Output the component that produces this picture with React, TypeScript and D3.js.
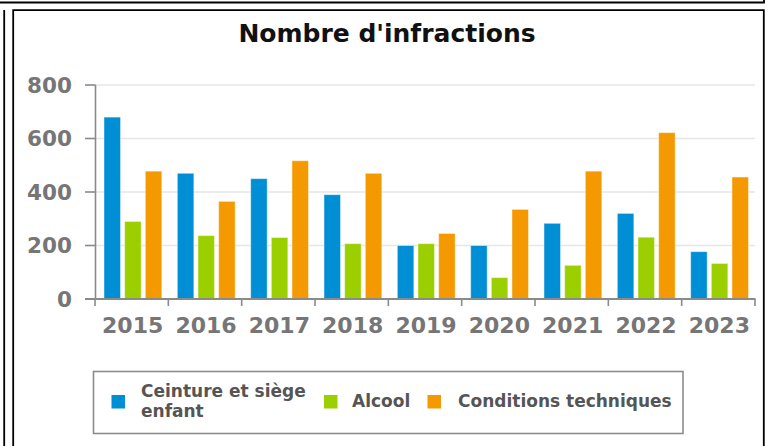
import * as d3 from 'd3';

const years = ['2015', '2016', '2017', '2018', '2019', '2020', '2021', '2022', '2023'];
const seriesNames = ['Ceinture et siège enfant', 'Alcool', 'Conditions techniques'];
const ceinture = [680, 470, 450, 390, 200, 200, 283, 320, 177];
const alcool = [290, 237, 230, 207, 207, 80, 126, 231, 133];
const conditions = [478, 365, 517, 470, 245, 335, 478, 622, 456];
const yTicks = [0, 200, 400, 600, 800];
const colors = ['#008fd5', '#9bcf00', '#f49a00'];

const W = 768;
const H = 446;
const FONT = 'DejaVu Sans, Verdana, sans-serif';

export default function App() {
  const series = [ceinture, alcool, conditions];

  // main scales
  const x0 = d3.scaleBand().domain(years).range([95, 755]);
  const x1 = d3
    .scaleBand()
    .domain(seriesNames)
    .range([9, x0.bandwidth() - 6.5])
    .paddingInner(0.2);
  const y = d3.scaleLinear().domain([0, 800]).range([299, 85]);

  const axisColor = '#8a8a8a';
  const labelColor = '#767676';

  return (
    <div style={{ position: 'absolute', left: 0, top: 0 }}>
      <svg width={W} height={H} style={{ display: 'block', background: '#fff' }}>
        {/* page frame lines */}
        <g stroke="#000" strokeWidth={1.8} fill="none">
          <path d="M0,2.5H764V0" />
          <path d={`M4.2,10V${H}`} />
          <path d={`M13.2,${H}V10.2H763.8V${H}`} />
        </g>

        <text
          x={387}
          y={42}
          textAnchor="middle"
          fontFamily={FONT}
          fontWeight="bold"
          fontSize={25}
          fill="#111"
        >
          Nombre d'infractions
        </text>

        {/* grid */}
        {yTicks.map((t) => (
          <line
            key={'g' + t}
            x1={95}
            x2={755}
            y1={y(t)}
            y2={y(t)}
            stroke="#e6e6e6"
            strokeWidth={1.5}
          />
        ))}

        {/* bars */}
        {years.map((yr, i) => (
          <g key={yr} transform={`translate(${x0(yr)},0)`}>
            {seriesNames.map((s, j) => (
              <rect
                key={s}
                x={x1(s)}
                y={y(series[j][i])}
                width={x1.bandwidth()}
                height={y(0) - y(series[j][i])}
                fill={colors[j]}
                stroke="#fff"
                strokeOpacity={0.45}
                strokeWidth={1}
              />
            ))}
          </g>
        ))}

        {/* y axis */}
        <line x1={95.5} x2={95.5} y1={y(800)} y2={y(0)} stroke={axisColor} strokeWidth={1.6} />
        {yTicks.map((t) => (
          <g key={'t' + t}>
            <line x1={85} x2={95.5} y1={y(t)} y2={y(t)} stroke={axisColor} strokeWidth={1.6} />
            <text
              x={72}
              y={y(t)}
              dy="0.36em"
              textAnchor="end"
              fontFamily={FONT}
              fontWeight="bold"
              fontSize={21.5}
              fill={labelColor}
            >
              {t}
            </text>
          </g>
        ))}

        {/* x axis */}
        <line x1={85} x2={755.5} y1={y(0)} y2={y(0)} stroke={axisColor} strokeWidth={1.8} />
        {[...years.map((yr) => x0(yr)!), 755].map((xx, i) => (
          <line
            key={'xt' + i}
            x1={xx}
            x2={xx}
            y1={y(0)}
            y2={y(0) + 7}
            stroke={axisColor}
            strokeWidth={1.6}
          />
        ))}
        {years.map((yr) => (
          <text
            key={'xl' + yr}
            x={x0(yr)! + x0.bandwidth() / 2 + 1}
            y={332.5}
            textAnchor="middle"
            fontFamily={FONT}
            fontWeight="bold"
            fontSize={22}
            fill={labelColor}
          >
            {yr}
          </text>
        ))}

        {/* legend */}
        <rect x={93.5} y={371.5} width={589.5} height={62} fill="#fff" stroke="#8c8c8c" strokeWidth={1.6} />
        <g fontFamily={FONT} fontWeight="bold" fontSize={17} fill="#555">
          <rect x={111.5} y={395} width={13.5} height={13.5} fill={colors[0]} />
          <text x={141} y={397}>Ceinture et siège</text>
          <text x={141} y={417}>enfant</text>
          <rect x={324} y={395} width={13.5} height={13.5} fill={colors[1]} />
          <text x={352} y={407}>{seriesNames[1]}</text>
          <rect x={427.5} y={395} width={13.5} height={13.5} fill={colors[2]} />
          <text x={458} y={407}>{seriesNames[2]}</text>
        </g>
      </svg>
    </div>
  );
}
